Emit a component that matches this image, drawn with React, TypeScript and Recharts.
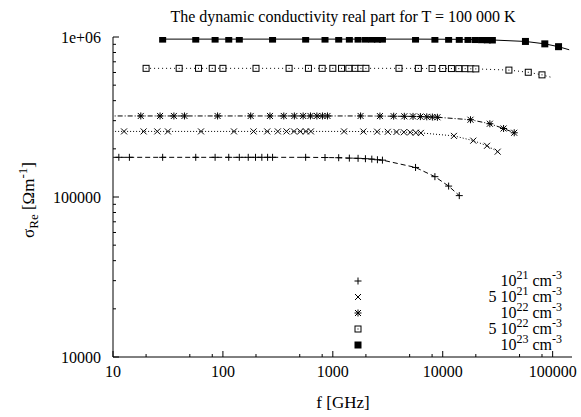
import { LineChart, Line, XAxis, YAxis, Customized } from "recharts";

const FONT = '"Liberation Serif", "Times New Roman", Times, serif';

// axis ticks
const X_MAJOR = [10, 100, 1000, 10000, 100000];
const X_TICK_LABELS = ["10", "100", "1000", "10000", "100000"];
const X_TICKS = [10, 20, 50, 80, 100, 200, 500, 800, 1000, 2000, 5000, 8000, 10000, 20000, 50000, 80000, 100000];
const Y_MAJOR = [10000, 100000, 1000000];
const Y_TICK_LABELS = ["10000", "100000", "1e+06"];
const Y_TICKS = [
  10000, 20000, 30000, 40000, 50000, 60000, 70000, 80000, 90000,
  100000, 200000, 300000, 400000, 500000, 600000, 700000, 800000, 900000, 1000000,
];

// f [GHz] and sigma_Re for each density
const F_1E21 = [8.49, 11.3, 14.1, 28.3, 56.6, 84.9, 113, 141, 170, 198, 226, 255, 283, 566, 849, 1131, 1414, 1697, 1980, 2263, 2546, 2828, 5657, 8485, 11314, 14142];
const S_1E21 = [177000, 177000, 177000, 177000, 177000, 177000, 177000, 177000, 177000, 177000, 177000, 177000, 177000, 177000, 176500, 176000, 175000, 174500, 173500, 172500, 171000, 170000, 153000, 134000, 117000, 102000];

const F_5E21 = [6.32, 12.6, 19.0, 25.3, 31.6, 63.2, 126, 190, 253, 316, 379, 443, 506, 569, 632, 1265, 1897, 2530, 3162, 3795, 4427, 5060, 5692, 6325, 12649, 18974, 25298, 31623];
const S_5E21 = [257000, 257000, 257000, 257000, 257000, 257000, 257000, 257000, 257000, 257000, 257000, 257000, 257000, 257000, 257000, 257000, 256500, 256000, 255500, 255000, 254000, 253500, 252500, 251500, 241000, 225000, 209000, 192000];

const F_1E22 = [8.94, 17.9, 26.8, 35.8, 44.7, 89.4, 179, 268, 358, 447, 537, 626, 716, 805, 894, 1789, 2683, 3578, 4472, 5367, 6261, 7155, 8050, 8944, 17889, 26833, 35777, 44721];
const S_1E22 = [321000, 321000, 321000, 321000, 321000, 321000, 321000, 321000, 321000, 321000, 321000, 321000, 321000, 321000, 321000, 321000, 320500, 320000, 319500, 319000, 318000, 317000, 316000, 315000, 304000, 287000, 268000, 252000];

const F_5E22 = [20, 40, 60, 80, 100, 200, 400, 600, 800, 1000, 1200, 1400, 1600, 1800, 2000, 4000, 6000, 8000, 10000, 12000, 14000, 16000, 18000, 20000, 40000, 60000, 80000, 100000];
const S_5E22 = [637000, 637000, 637000, 637000, 637000, 637000, 637000, 637000, 637000, 637000, 637000, 637000, 637000, 637000, 637000, 637000, 636500, 636000, 635500, 635000, 634500, 634000, 633000, 632000, 621000, 602000, 580000, 557000];

const F_1E23 = [28.3, 56.6, 84.9, 113, 141, 283, 566, 849, 1131, 1414, 1697, 1980, 2263, 2546, 2828, 5657, 8485, 11314, 14142, 16971, 19799, 22627, 25456, 28284, 56569, 84853, 113137, 141421];
const S_1E23 = [970000, 970000, 970000, 970000, 970000, 970000, 970000, 970000, 970000, 970000, 970000, 970000, 970000, 970000, 970000, 970000, 969000, 968000, 967000, 966000, 964000, 962000, 960000, 958000, 938000, 906000, 870000, 832000];

const LEGEND_PREFIX = ["", "5 ", "", "5 ", ""];
const LEGEND_EXP = ["21", "21", "22", "22", "23"];

const rows = (f: number[], s: number[]) => f.map((v, i) => ({ f: v, s: s[i] }));

const SERIES = [
  { key: "1e21", data: rows(F_1E21, S_1E21), marker: "plus", dash: "5 3", skipLast: false },
  { key: "5e21", data: rows(F_5E21, S_5E21), marker: "cross", dash: "1 2", skipLast: false },
  { key: "1e22", data: rows(F_1E22, S_1E22), marker: "star", dash: "5 2 1 2", skipLast: false },
  { key: "5e22", data: rows(F_5E22, S_5E22), marker: "box", dash: "1 3", skipLast: true },
  { key: "1e23", data: rows(F_1E23, S_1E23), marker: "fbox", dash: undefined, skipLast: true },
];

function Marker({ kind, cx, cy }: { kind: string; cx: number; cy: number }) {
  const s = 3.5;
  const c = 3;
  if (kind === "plus")
    return <path d={`M${cx - s},${cy}H${cx + s}M${cx},${cy - s}V${cy + s}`} stroke="#000" fill="none" />;
  if (kind === "cross")
    return <path d={`M${cx - c},${cy - c}L${cx + c},${cy + c}M${cx - c},${cy + c}L${cx + c},${cy - c}`} stroke="#000" fill="none" />;
  if (kind === "star")
    return (
      <path
        d={`M${cx - s},${cy}H${cx + s}M${cx},${cy - s}V${cy + s}M${cx - c},${cy - c}L${cx + c},${cy + c}M${cx - c},${cy + c}L${cx + c},${cy - c}`}
        stroke="#000"
        fill="none"
      />
    );
  if (kind === "box")
    return (
      <g>
        <rect x={cx - 3} y={cy - 3} width={6} height={6} fill="#fff" stroke="#000" />
        <rect x={cx - 0.5} y={cy - 0.5} width={1} height={1} fill="#000" />
      </g>
    );
  return <rect x={cx - 3.5} y={cy - 3.5} width={7} height={7} fill="#000" />;
}

const makeDot = (kind: string, n: number, skipLast: boolean) => (p: any) => {
  const { cx, cy, index } = p;
  if (cx == null || cy == null || (skipLast && index === n - 1)) return <g key={`m${index}`} />;
  return (
    <g key={`m${index}`}>
      <Marker kind={kind} cx={cx} cy={cy} />
    </g>
  );
};

function BottomTick(p: any) {
  const { x, y, payload } = p;
  const i = X_MAJOR.indexOf(payload.value);
  return (
    <g>
      <line x1={x} x2={x} y1={y} y2={y - (i >= 0 ? 6 : 3)} stroke="#000" />
      {i >= 0 && (
        <text x={x} y={y + 20} textAnchor="middle" fontSize={16} fontFamily={FONT} fill="#000">
          {X_TICK_LABELS[i]}
        </text>
      )}
    </g>
  );
}

function TopTick(p: any) {
  const { x, y, payload } = p;
  const major = X_MAJOR.includes(payload.value);
  return <line x1={x} x2={x} y1={y} y2={y + (major ? 6 : 3)} stroke="#000" />;
}

function LeftTick(p: any) {
  const { x, y, payload } = p;
  const i = Y_MAJOR.indexOf(payload.value);
  return (
    <g>
      <line x1={x} x2={x + (i >= 0 ? 6 : 3)} y1={y} y2={y} stroke="#000" />
      {i >= 0 && (
        <text x={x - 12} y={y} dy="0.35em" textAnchor="end" fontSize={16} fontFamily={FONT} fill="#000">
          {Y_TICK_LABELS[i]}
        </text>
      )}
    </g>
  );
}

function RightTick(p: any) {
  const { x, y, payload } = p;
  const major = Y_MAJOR.includes(payload.value);
  return <line x1={x} x2={x - (major ? 6 : 3)} y1={y} y2={y} stroke="#000" />;
}

function Overlay() {
  const txt = { fontFamily: FONT, fill: "#000" };
  return (
    <g>
      <text x={343} y={22} textAnchor="middle" fontSize={16} {...txt}>
        The dynamic conductivity real part for T = 100 000 K
      </text>
      <text x={343} y={408} textAnchor="middle" fontSize={17} {...txt}>
        f [GHz]
      </text>
      <text transform="rotate(-90)" x={-200} y={34} textAnchor="middle" fontSize={17} {...txt}>
        σ<tspan dy={4} fontSize={13}>Re</tspan>
        <tspan dy={-4}> [Ωm</tspan>
        <tspan dy={-7} fontSize={13}>-1</tspan>
        <tspan dy={7}>]</tspan>
      </text>
      {SERIES.map((s, i) => {
        const y = 281 + i * 16;
        return (
          <g key={s.key}>
            <Marker kind={s.marker} cx={358} cy={y} />
            <text x={562} y={y + 5} textAnchor="end" fontSize={16} {...txt}>
              {LEGEND_PREFIX[i]}10
              <tspan dy={-7} fontSize={12}>{LEGEND_EXP[i]}</tspan>
              <tspan dy={7}> cm</tspan>
              <tspan dy={-7} fontSize={12}>-3</tspan>
            </text>
          </g>
        );
      })}
    </g>
  );
}

export default function App() {
  return (
    <div style={{ position: "absolute", left: 0, top: 0, background: "#fff" }}>
      <LineChart width={581} height={417} margin={{ top: 37, right: 9, bottom: 0, left: 0 }}>
        <XAxis
          xAxisId="b"
          dataKey="f"
          type="number"
          scale="log"
          domain={[10, 150000]}
          allowDataOverflow
          ticks={X_TICKS}
          interval={0}
          height={60}
          tickLine={false}
          tickSize={0}
          tickMargin={0}
          axisLine={{ stroke: "#000" }}
          tick={(p: any) => <BottomTick {...p} />}
        />
        <XAxis
          xAxisId="t"
          orientation="top"
          dataKey="f"
          type="number"
          scale="log"
          domain={[10, 150000]}
          allowDataOverflow
          ticks={X_TICKS}
          interval={0}
          height={0}
          tickLine={false}
          tickSize={0}
          tickMargin={0}
          axisLine={{ stroke: "#000" }}
          tick={(p: any) => <TopTick {...p} />}
        />
        <YAxis
          yAxisId="l"
          type="number"
          scale="log"
          domain={[10000, 1000000]}
          allowDataOverflow
          ticks={Y_TICKS}
          interval={0}
          width={113}
          tickLine={false}
          tickSize={0}
          tickMargin={0}
          axisLine={{ stroke: "#000" }}
          tick={(p: any) => <LeftTick {...p} />}
        />
        <YAxis
          yAxisId="r"
          orientation="right"
          type="number"
          scale="log"
          domain={[10000, 1000000]}
          allowDataOverflow
          ticks={Y_TICKS}
          interval={0}
          width={0}
          tickLine={false}
          tickSize={0}
          tickMargin={0}
          axisLine={{ stroke: "#000" }}
          tick={(p: any) => <RightTick {...p} />}
        />
        {SERIES.map((s) => (
          <Line
            key={s.key}
            data={s.data}
            dataKey="s"
            xAxisId="b"
            yAxisId="l"
            type="linear"
            stroke="#000"
            strokeWidth={1}
            strokeDasharray={s.dash}
            dot={makeDot(s.marker, s.data.length, s.skipLast)}
            activeDot={false}
            isAnimationActive={false}
          />
        ))}
        <Customized component={Overlay} />
      </LineChart>
    </div>
  );
}
